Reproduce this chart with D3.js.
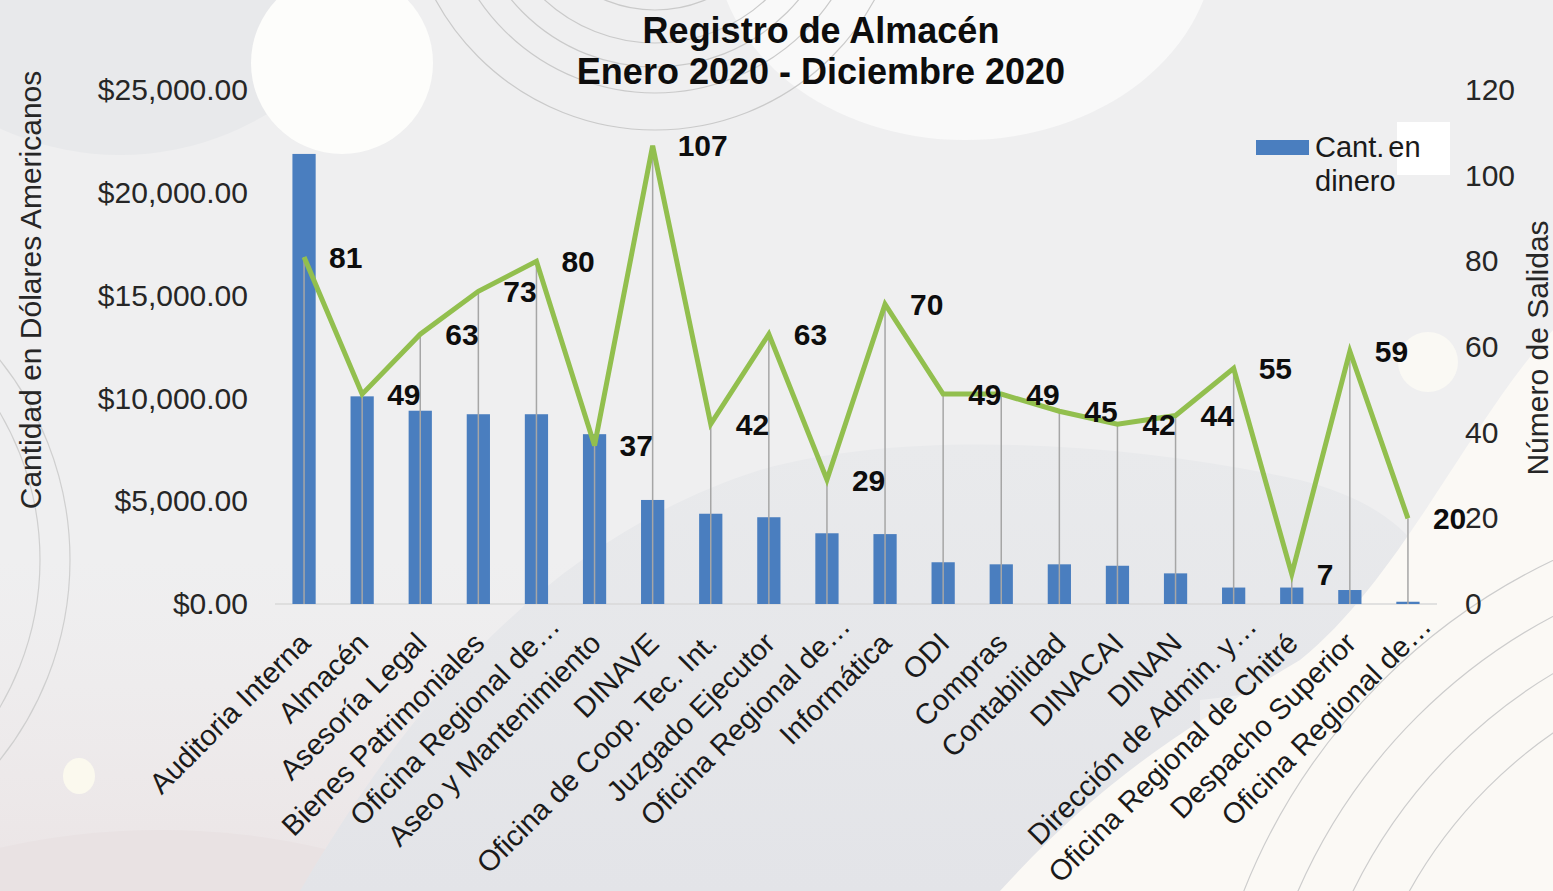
<!DOCTYPE html>
<html>
<head>
<meta charset="utf-8">
<script src="https://cdn.jsdelivr.net/npm/d3@7"></script>
<style>
  html, body { margin: 0; padding: 0; background: #efeff0; }
  svg { display: block; }
  text { font-family: "Liberation Sans", Arial, sans-serif; }
</style>
</head>
<body>
<svg id="chart" width="1553" height="891"></svg>
<script>
const categories = [
  "Auditoria Interna", "Almacén", "Asesoría Legal", "Bienes Patrimoniales",
  "Oficina Regional de…", "Aseo y Mantenimiento", "DINAVE", "Oficina de Coop. Tec. Int.",
  "Juzgado Ejecutor", "Oficina Regional de…", "Informática", "ODI", "Compras",
  "Contabilidad", "DINACAI", "DINAN", "Dirección de Admin. y…",
  "Oficina Regional de Chitré", "Despacho Superior", "Oficina Regional de…"
];
const cantDinero = [21890, 10100, 9400, 9230, 9230, 8260, 5060, 4390, 4220, 3440,
                    3400, 2030, 1930, 1930, 1860, 1490, 800, 800, 680, 110];
const numSalidas = [81, 49, 63, 73, 80, 37, 107, 42, 63, 29, 70, 49, 49, 45, 42, 44, 55, 7, 59, 20];
const leftTicks = [0, 5000, 10000, 15000, 20000, 25000];
const rightTicks = [0, 20, 40, 60, 80, 100, 120];
const titleLines = ["Registro de Almacén", "Enero 2020 - Diciembre 2020"];
const seriesName = ["Cant.", "en", "dinero"];

const W = 1553, H = 891;
const svg = d3.select("#chart");
const idx = categories.map((d, i) => i);

// ---------- decorative background ----------
const bg = svg.append("g");
const defs = svg.append("defs");
bg.append("rect").attr("width", W).attr("height", H).attr("fill", "#efeff0");
// top-left darker circle
bg.append("circle").attr("cx", 120).attr("cy", -130).attr("r", 285).attr("fill", "#e8e9eb");
// bottom-left pink tint
const pg = defs.append("linearGradient").attr("id", "pink").attr("x1", 0).attr("y1", 0).attr("x2", 0).attr("y2", 1);
pg.append("stop").attr("offset", "0").attr("stop-color", "#ede9ea").attr("stop-opacity", 0);
pg.append("stop").attr("offset", "1").attr("stop-color", "#ebe4e5").attr("stop-opacity", 1);
bg.append("rect").attr("x", 0).attr("y", 560).attr("width", 720).attr("height", 331).attr("fill", "url(#pink)");
bg.append("ellipse").attr("cx", 160).attr("cy", 1090).attr("rx", 440).attr("ry", 260).attr("fill", "#e9e2e3");
// top-right big white shape
bg.append("ellipse").attr("cx", 965).attr("cy", -60).attr("rx", 250).attr("ry", 200).attr("fill", "#f9f9f9");
// middle grey hill reaching to the bottom
const gg = defs.append("linearGradient").attr("id", "grey").attr("x1", 0).attr("y1", 0).attr("x2", 0).attr("y2", 1);
gg.append("stop").attr("offset", "0").attr("stop-color", "#e9eaec");
gg.append("stop").attr("offset", "1").attr("stop-color", "#e3e4e8");
bg.append("path")
  .attr("d", "M300,891 C400,720 540,540 760,470 C900,430 1120,440 1300,480 C1400,505 1440,560 1430,600 C1410,660 1300,690 1200,700 L1200,891 Z")
  .attr("fill", "url(#grey)");
// bottom-right cream area
bg.append("path")
  .attr("d", "M1000,891 C1110,770 1200,720 1300,660 C1400,580 1470,420 1553,330 L1553,891 Z")
  .attr("fill", "#fbf9f5");
// white circles
bg.append("circle").attr("cx", 342).attr("cy", 63).attr("r", 91).attr("fill", "#fdfdfb");
bg.append("ellipse").attr("cx", 79).attr("cy", 776).attr("rx", 16).attr("ry", 18).attr("fill", "#fbf9ee");
bg.append("circle").attr("cx", 1428).attr("cy", 362).attr("r", 30).attr("fill", "#faf9f4");
// concentric arcs (top centre)
[130, 163, 187, 213, 250].forEach(r => {
  bg.append("circle").attr("cx", 655).attr("cy", -120).attr("r", r)
    .attr("fill", "none").attr("stroke", "#cacaca").attr("stroke-width", 1.2);
});
// left arcs
[290, 320].forEach(r => {
  bg.append("circle").attr("cx", -250).attr("cy", 560).attr("r", r)
    .attr("fill", "none").attr("stroke", "#cfcfcf").attr("stroke-width", 1.2);
});
// bottom-right arcs
[470, 520, 570, 620].forEach(r => {
  bg.append("circle").attr("cx", 1820).attr("cy", 1120).attr("r", r)
    .attr("fill", "none").attr("stroke", "#cdcdcd").attr("stroke-width", 1.2);
});
// white square behind legend
bg.append("rect").attr("x", 1397).attr("y", 122).attr("width", 53).attr("height", 53).attr("fill", "#ffffff");

// ---------- scales ----------
const plotL = 275, plotR = 1437, plotT = 90, plotB = 604;
const x = d3.scaleBand().domain(idx).range([plotL, plotR]).paddingInner(0.6).paddingOuter(0.3);
const cx = i => x(i) + x.bandwidth() / 2;
const yL = d3.scaleLinear().domain([0, 25000]).range([plotB, plotT]);
const yR = d3.scaleLinear().domain([0, 120]).range([plotB, plotT]);

// ---------- axes ----------
const fmt = d3.format("$,.2f");
const axL = svg.append("g").attr("transform", `translate(${plotL - 27},0)`)
  .call(d3.axisLeft(yL).tickValues(leftTicks).tickFormat(fmt).tickSize(0).tickPadding(0));
axL.select(".domain").remove();
axL.selectAll("text").attr("font-size", 30).attr("fill", "#262626")
  .style("font-family", "'Liberation Sans', Arial, sans-serif");

const axR = svg.append("g").attr("transform", `translate(${plotR + 28},0)`)
  .call(d3.axisRight(yR).tickValues(rightTicks).tickSize(0).tickPadding(0));
axR.select(".domain").remove();
axR.selectAll("text").attr("font-size", 30).attr("fill", "#262626")
  .style("font-family", "'Liberation Sans', Arial, sans-serif");

// baseline
svg.append("line").attr("x1", plotL).attr("x2", plotR).attr("y1", plotB).attr("y2", plotB)
  .attr("stroke", "#d9d9d9").attr("stroke-width", 1.5);

// category labels
const axB = svg.append("g").attr("transform", `translate(0,${plotB})`)
  .call(d3.axisBottom(x).tickSize(0).tickFormat(i => categories[i]));
axB.select(".domain").remove();
axB.selectAll(".tick text")
  .attr("font-size", 29).attr("fill", "#1a1a1a")
  .style("font-family", "'Liberation Sans', Arial, sans-serif")
  .attr("text-anchor", "end")
  .attr("x", 0).attr("y", 0).attr("dy", 0)
  .attr("dx", function(i) { return categories[i].endsWith("…") ? 24 : 0; })
  .attr("transform", "translate(8,41) rotate(-45)");

// ---------- bars ----------
svg.append("g").selectAll("rect").data(idx).join("rect")
  .attr("x", i => x(i)).attr("width", x.bandwidth())
  .attr("y", i => yL(cantDinero[i]))
  .attr("height", i => yL(0) - yL(cantDinero[i]))
  .attr("fill", "#4a7ebf");

// ---------- drop lines ----------
svg.append("g").selectAll("line").data(idx).join("line")
  .attr("x1", cx).attr("x2", cx)
  .attr("y1", i => yR(numSalidas[i])).attr("y2", yR(0))
  .attr("stroke", "#a6a6a6").attr("stroke-width", 1.5);

// ---------- line ----------
svg.append("path").datum(idx)
  .attr("d", d3.line().x(cx).y(i => yR(numSalidas[i])))
  .attr("fill", "none").attr("stroke", "#92bf4e").attr("stroke-width", 5)
  .attr("stroke-linejoin", "miter");

// data labels
svg.append("g").selectAll("text").data(idx).join("text")
  .attr("x", i => cx(i) + 25).attr("y", i => yR(numSalidas[i]))
  .attr("dy", "0.36em")
  .attr("font-size", 30).attr("font-weight", "bold").attr("fill", "#0d0d0d")
  .text(i => numSalidas[i]);

// ---------- titles ----------
svg.append("text").attr("x", 821).attr("y", 43).attr("text-anchor", "middle")
  .attr("font-size", 36).attr("font-weight", "bold").attr("fill", "#0d0d0d").text(titleLines[0]);
svg.append("text").attr("x", 821).attr("y", 84).attr("text-anchor", "middle")
  .attr("font-size", 36).attr("font-weight", "bold").attr("fill", "#0d0d0d").text(titleLines[1]);

svg.append("text").attr("transform", "translate(41,290) rotate(-90)").attr("text-anchor", "middle")
  .attr("font-size", 30).attr("fill", "#262626").text("Cantidad en Dólares Americanos");
svg.append("text").attr("transform", "translate(1548,348) rotate(-90)").attr("text-anchor", "middle")
  .attr("font-size", 30).attr("fill", "#262626").text("Número de Salidas");

// ---------- legend ----------
svg.append("rect").attr("x", 1256).attr("y", 140).attr("width", 53).attr("height", 15).attr("fill", "#4a7ebf");
const lt = svg.append("text").attr("x", 1315).attr("y", 157).attr("font-size", 29).attr("fill", "#1a1a1a");
lt.append("tspan").text(seriesName[0]);
lt.append("tspan").attr("dx", 4).text(seriesName[1]);
svg.append("text").attr("x", 1315).attr("y", 191).attr("font-size", 29).attr("fill", "#1a1a1a").text(seriesName[2]);
</script>
</body>
</html>
